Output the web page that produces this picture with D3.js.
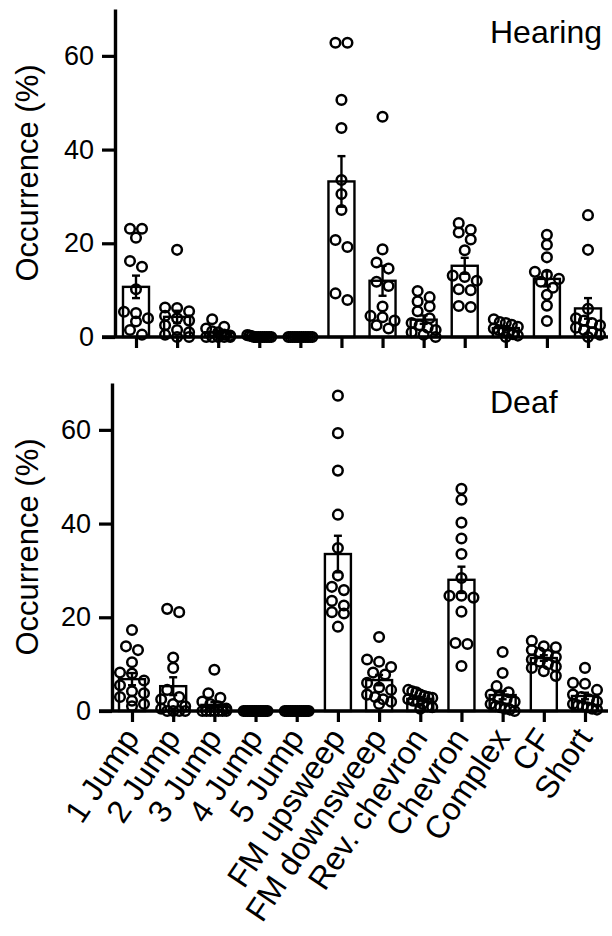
<!DOCTYPE html>
<html>
<head>
<meta charset="utf-8">
<script src="https://cdn.jsdelivr.net/npm/d3@7/dist/d3.min.js"></script>
<style>
  body { margin: 0; background: #fff; }
  svg { display: block; }
  text { font-family: "Liberation Sans", Arial, sans-serif; fill: #000; }
</style>
</head>
<body>
<svg id="chart"></svg>
<script>
const categories = ["1 Jump", "2 Jump", "3 Jump", "4 Jump", "5 Jump", "FM upsweep",
    "FM downsweep", "Rev. chevron", "Chevron", "Complex", "CF", "Short"];
const yTicks = [0, 20, 40, 60];

// Hearing group: bar means, SEM, and the individual animals
const hearingMean = [10.7, 4.3, 1.0, 0.1, 0, 33.2, 12.0, 3.7, 15.2, 1.9, 12.4, 6.1];
const hearingSem = [2.4, 1.3, 0.4, 0.05, 0, 5.4, 3.2, 0.9, 1.7, 0.4, 1.6, 2.2];
const hearingPoints = [
    [23.1, 23.1, 21.2, 16.2, 15.0, 10.2, 5.4, 5.1, 4.0, 3.3, 1.5, 0.5],
    [18.6, 6.3, 6.2, 5.5, 4.5, 4.0, 3.5, 2.5, 1.5, 1.0, 0.5, 0, 0],
    [3.8, 2.2, 1.8, 1.2, 1.0, 0.5, 0.3, 0, 0, 0, 0, 0],
    [0.4, 0.3, 0.2, 0, 0, 0, 0, 0, 0, 0, 0, 0],
    [0, 0, 0, 0, 0, 0, 0, 0, 0, 0, 0, 0],
    [62.8, 62.8, 50.6, 44.6, 33.5, 30.5, 27.1, 20.7, 19.2, 9.3, 7.9],
    [47.0, 18.7, 15.9, 14.6, 11.8, 10.9, 6.5, 4.5, 4.2, 3.5, 2.5, 1.8],
    [9.8, 8.5, 7.6, 6.5, 5.5, 4.0, 3.0, 2.5, 2.0, 1.5, 1.0, 0.5, 0],
    [24.3, 22.9, 22.3, 20.8, 18.5, 13.1, 12.8, 12.0, 10.2, 10.0, 6.6, 6.4],
    [3.8, 3.2, 3.0, 2.6, 2.2, 1.8, 1.5, 1.2, 1.0, 0.6, 0.3, 0],
    [21.8, 19.7, 17.0, 13.9, 13.3, 12.4, 11.8, 10.5, 9.0, 6.7, 3.4],
    [26.0, 18.6, 6.0, 4.0, 3.5, 3.0, 2.5, 2.0, 1.5, 1.0, 0.5, 0]
];

// Deaf group
const deafMean = [6.8, 5.3, 1.3, 0, 0, 33.5, 6.6, 2.6, 28.0, 3.4, 11.3, 3.2];
const deafSem = [1.3, 1.9, 0.6, 0, 0, 3.9, 1.1, 0.4, 2.8, 0.9, 0.6, 0.7];
const deafPoints = [
    [17.3, 13.8, 13.0, 10.4, 8.2, 8.0, 6.5, 5.5, 4.2, 3.8, 3.0, 2.2, 1.5, 1.0],
    [21.8, 21.1, 11.4, 9.2, 4.5, 3.0, 2.5, 1.5, 1.0, 0.5, 0, 0, 0, 0],
    [8.8, 3.8, 2.8, 2.0, 1.5, 1.0, 0.5, 0, 0, 0, 0, 0, 0, 0],
    [0, 0, 0, 0, 0, 0, 0, 0, 0, 0, 0, 0, 0, 0],
    [0, 0, 0, 0, 0, 0, 0, 0, 0, 0, 0, 0, 0, 0],
    [67.3, 59.3, 51.3, 41.9, 34.8, 28.9, 26.5, 25.8, 23.5, 22.5, 21.1, 20.8, 18.0],
    [15.8, 11.0, 10.5, 9.4, 8.2, 7.8, 6.0, 5.0, 4.5, 3.5, 3.0, 2.5, 2.0, 1.5],
    [4.5, 4.2, 4.0, 3.5, 3.2, 3.0, 2.8, 2.5, 2.2, 2.0, 1.5, 1.0, 0.8, 0.5],
    [47.4, 45.1, 40.2, 36.8, 33.5, 28.4, 24.6, 24.6, 24.2, 21.2, 14.5, 14.3, 9.6],
    [12.6, 8.1, 5.3, 4.0, 3.5, 3.0, 2.5, 2.0, 1.5, 1.0, 0.8, 0.5, 0.3, 0],
    [15.0, 13.8, 13.6, 13.0, 12.5, 12.0, 11.5, 11.0, 10.5, 10.0, 9.5, 9.2, 8.5, 7.5],
    [9.2, 6.0, 5.8, 4.5, 3.5, 3.0, 2.5, 2.0, 1.5, 1.2, 1.0, 0.8, 0.5, 0.3]
];

const WIDTH = 612, HEIGHT = 936;
const BAR_W = 26;
const R = 4.8;

const svg = d3.select("#chart")
    .attr("width", WIDTH)
    .attr("height", HEIGHT);

// spread points of similar height side by side, like a scatter dot plot
function swarm(values, y, cx) {
    const sorted = values.slice().sort((a, b) => b - a);
    const rows = [];
    sorted.forEach(v => {
        const py = y(v);
        const row = rows[rows.length - 1];
        if (row && py - row.top < 8) row.items.push(v);
        else rows.push({top: py, items: [v]});
    });
    return rows.flatMap(row => {
        const k = row.items.length;
        const step = k > 1 ? Math.min(12, 24 / (k - 1)) : 0;
        return row.items.map((v, i) => ({v, x: cx + (i - (k - 1) / 2) * step}));
    });
}

function panel({axisX, top, bottom, first, last, means, sems, points, title, titleY, showLabels}) {
    const g = svg.append("g");

    const x = d3.scalePoint()
        .domain(categories)
        .range([first, last]);

    const y = d3.scaleLinear()
        .domain([0, 70])
        .range([bottom, top]);

    // bars
    g.selectAll("rect.bar")
        .data(categories)
        .enter()
        .append("rect")
        .attr("class", "bar")
        .attr("x", d => x(d) - BAR_W / 2)
        .attr("width", BAR_W)
        .attr("y", (d, i) => y(means[i]))
        .attr("height", (d, i) => y(0) - y(means[i]))
        .style("fill", "#fff")
        .style("stroke", "#000")
        .style("stroke-width", 2.4);

    // individual points
    categories.forEach((c, i) => {
        g.append("g")
            .selectAll("circle")
            .data(swarm(points[i], y, x(c)))
            .enter()
            .append("circle")
            .attr("cx", d => d.x)
            .attr("cy", d => y(d.v))
            .attr("r", R)
            .style("fill", "none")
            .style("stroke", "#000")
            .style("stroke-width", 2.5);
    });

    // error bars (mean +/- SEM)
    const err = g.selectAll("g.err")
        .data(categories)
        .enter()
        .append("g")
        .attr("class", "err")
        .style("stroke", "#000")
        .style("stroke-width", 2.4);
    err.append("line")
        .attr("x1", d => x(d)).attr("x2", d => x(d))
        .attr("y1", (d, i) => y(means[i] + sems[i]))
        .attr("y2", (d, i) => y(Math.max(0, means[i] - sems[i])));
    err.append("line")
        .attr("x1", d => x(d) - 4).attr("x2", d => x(d) + 4)
        .attr("y1", (d, i) => y(means[i] + sems[i]))
        .attr("y2", (d, i) => y(means[i] + sems[i]));
    err.append("line")
        .attr("x1", d => x(d) - 4).attr("x2", d => x(d) + 4)
        .attr("y1", (d, i) => y(Math.max(0, means[i] - sems[i])))
        .attr("y2", (d, i) => y(Math.max(0, means[i] - sems[i])));

    // y axis
    const yAxis = g.append("g")
        .attr("transform", `translate(${axisX},0)`)
        .call(d3.axisLeft(y).tickValues(yTicks).tickSize(13).tickSizeOuter(0).tickPadding(8));
    yAxis.select(".domain").style("stroke-width", 3.4);
    yAxis.selectAll(".tick line").style("stroke-width", 3.2);
    yAxis.selectAll(".tick text")
        .style("font-size", "27px")
        .style("font-family", "Liberation Sans, Arial, sans-serif");

    // x axis
    const xAxis = g.append("g")
        .attr("transform", `translate(0,${y(0)})`)
        .call(d3.axisBottom(x).tickSize(11).tickSizeOuter(0));
    xAxis.select(".domain").remove();
    xAxis.selectAll(".tick line").style("stroke-width", 3.2);
    xAxis.append("line")
        .attr("x1", axisX - 13).attr("x2", 608)
        .style("stroke", "#000")
        .style("stroke-width", 3.4);
    if (showLabels) {
        xAxis.selectAll(".tick text")
            .attr("x", 0).attr("y", 0).attr("dy", 0)
            .attr("transform", "translate(8,27) rotate(-56)")
            .style("text-anchor", "end")
            .style("font-size", "32px")
            .style("font-family", "Liberation Sans, Arial, sans-serif");
    } else {
        xAxis.selectAll(".tick text").remove();
    }

    // axis title
    g.append("text")
        .attr("transform", `translate(38,${(top + bottom) / 2}) rotate(-90)`)
        .style("text-anchor", "middle")
        .style("font-size", "31px")
        .text("Occurrence (%)");

    g.append("text")
        .attr("x", 490)
        .attr("y", titleY)
        .style("font-size", "32px")
        .text(title);
}

panel({axisX: 115, top: 9, bottom: 337, first: 136, last: 588,
    means: hearingMean, sems: hearingSem, points: hearingPoints,
    title: "Hearing", titleY: 43, showLabels: false});

panel({axisX: 112, top: 383, bottom: 711, first: 132, last: 585,
    means: deafMean, sems: deafSem, points: deafPoints,
    title: "Deaf", titleY: 413, showLabels: true});
</script>
</body>
</html>
